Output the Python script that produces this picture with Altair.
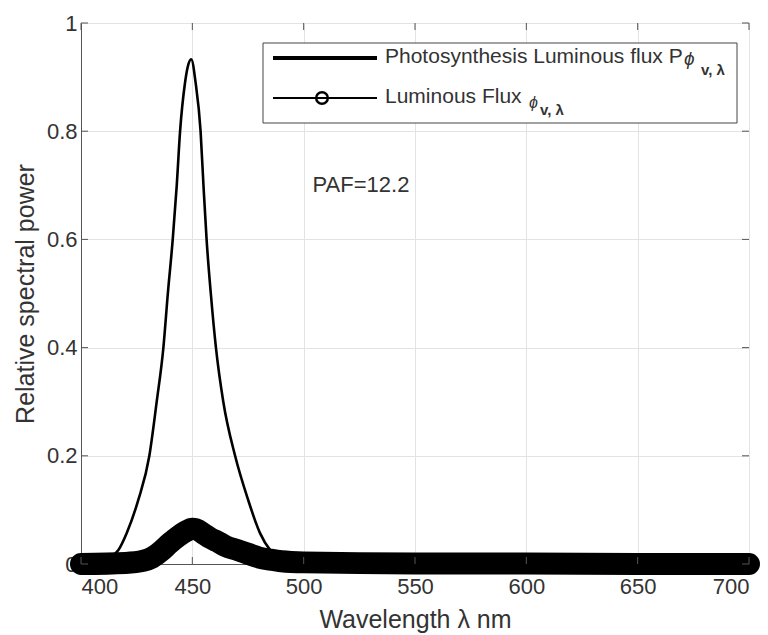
import altair as alt
import pandas as pd

# Photosynthesis luminous flux spectrum (thin peaked curve)
wl_photo = [400, 410, 414, 416.8, 420.5, 425.7, 430.7, 434, 437, 439, 441.2, 443, 444.5, 446.7, 448,
            449.5, 451.5, 453.7, 455, 456.4, 458.3, 460.6, 463.9, 469.2, 475.1, 480.4, 484.9, 490,
            495, 500, 600, 700]
photo = [0.0, 0.005, 0.015, 0.026, 0.057, 0.118, 0.20, 0.30, 0.40, 0.50, 0.60, 0.70, 0.80, 0.889, 0.92,
         0.933, 0.889, 0.80, 0.70, 0.60, 0.50, 0.40, 0.30, 0.20, 0.118, 0.057, 0.026, 0.01,
         0.003, 0.0, 0.0, 0.0]

# Luminous flux spectrum (thick marker band)
wl_lum = [400, 420, 428, 432, 436, 440, 444, 447, 450, 452, 455, 458, 461, 465, 470, 475, 480,
          485, 490, 500, 550, 600, 650, 700]
lum = [0.0, 0.002, 0.006, 0.012, 0.024, 0.039, 0.052, 0.060, 0.065, 0.064, 0.056, 0.048, 0.042,
       0.033, 0.026, 0.019, 0.012, 0.008, 0.005, 0.003, 0.001, 0.001, 0.0, 0.0]

x_ticks = [400, 450, 500, 550, 600, 650, 700]
y_ticks = [0, 0.2, 0.4, 0.6, 0.8, 1.0]

W, H = 668, 541
FONT = "Liberation Sans"
TXT = "#333333"

df_photo = pd.DataFrame({"wl": wl_photo, "v": photo})
df_lum = pd.DataFrame({"wl": wl_lum, "v": lum})
df_xt = pd.DataFrame({"wl": x_ticks})
df_yt = pd.DataFrame({"v": y_ticks})

xs = alt.Scale(domain=[400, 700], nice=False, zero=False)
ys = alt.Scale(domain=[0, 1], nice=False)

x_axis = alt.Axis(values=x_ticks, format="d", ticks=False, labelPadding=12, labelFontSize=22,
                  labelFont=FONT, labelColor=TXT, title="Wavelength λ nm", titleFontSize=25,
                  titleFont=FONT, titleColor=TXT, titleFontWeight="normal", titlePadding=10,
                  grid=True, gridColor="#e3e3e3", domainColor="#555555")
y_axis = alt.Axis(values=y_ticks, format="~g", ticks=False, labelPadding=4, labelFontSize=22,
                  labelFont=FONT, labelColor=TXT, title="Relative spectral power", titleFontSize=25,
                  titleFont=FONT, titleColor=TXT, titleFontWeight="normal", titlePadding=8,
                  grid=True, gridColor="#e3e3e3", domainColor="#555555")

photo_line = alt.Chart(df_photo).mark_line(color="black", strokeWidth=2.6, clip=False,
                                           interpolate="monotone").encode(
    x=alt.X("wl:Q", scale=xs, axis=x_axis),
    y=alt.Y("v:Q", scale=ys, axis=y_axis),
)

lum_band = alt.Chart(df_lum).mark_line(color="black", strokeWidth=22, strokeCap="round",
                                       strokeJoin="round", clip=False,
                                       interpolate="monotone").encode(
    x=alt.X("wl:Q", scale=xs),
    y=alt.Y("v:Q", scale=ys),
)

# inward tick marks on all four sides
tick_c = "#555555"
tb = alt.Chart(df_xt).mark_rule(color=tick_c).encode(x=alt.X("wl:Q", scale=xs), y=alt.value(H), y2=alt.value(H - 7))
tt = alt.Chart(df_xt).mark_rule(color=tick_c).encode(x=alt.X("wl:Q", scale=xs), y=alt.value(0), y2=alt.value(7))
tl = alt.Chart(df_yt).mark_rule(color=tick_c).encode(y=alt.Y("v:Q", scale=ys), x=alt.value(0), x2=alt.value(7))
tr = alt.Chart(df_yt).mark_rule(color=tick_c).encode(y=alt.Y("v:Q", scale=ys), x=alt.value(W), x2=alt.value(W - 7))

# annotation
paf = alt.Chart(pd.DataFrame({"wl": [504], "v": [0.70], "t": ["PAF=12.2"]})).mark_text(
    align="left", baseline="middle", fontSize=22, font=FONT, color=TXT
).encode(x=alt.X("wl:Q", scale=xs), y=alt.Y("v:Q", scale=ys), text="t:N")

# legend box
one = pd.DataFrame({"a": [0]})
box = alt.Chart(one).mark_rect(fill="white", stroke="#444444", strokeWidth=1).encode(
    x=alt.value(182), x2=alt.value(656), y=alt.value(20), y2=alt.value(100))
leg1 = alt.Chart(one).mark_rule(color="black", strokeWidth=4).encode(
    x=alt.value(192), x2=alt.value(296), y=alt.value(35))
leg2 = alt.Chart(one).mark_rule(color="black", strokeWidth=2).encode(
    x=alt.value(192), x2=alt.value(296), y=alt.value(75))
leg2c = alt.Chart(one).mark_point(shape="circle", filled=False, color="black", strokeWidth=2.5,
                                  size=135, opacity=1).encode(x=alt.value(241), y=alt.value(75))


def label(text, x, y, size, style="normal", weight="normal", align="left"):
    return alt.Chart(one).mark_text(
        text=text, align=align, baseline="middle", fontSize=size, font=FONT,
        fontStyle=style, fontWeight=weight, color=TXT
    ).encode(x=alt.value(x), y=alt.value(y))


legend_text = [
    label("Photosynthesis Luminous flux P", 304, 34, 21),
    label("ϕ", 603, 36, 19, style="italic"),
    label("v, λ", 620, 47, 15, weight="bold"),
    label("Luminous Flux", 304, 74, 21),
    label("ϕ", 448, 80, 16, style="italic"),
    label("v, λ", 459, 87, 15, weight="bold"),
]

chart = alt.layer(
    photo_line, lum_band, tb, tt, tl, tr, paf, box, leg1, leg2, leg2c, *legend_text
).properties(
    width=W, height=H,
    autosize=alt.AutoSizeParams(type="none"),
    padding={"left": 81, "top": 23, "right": 19, "bottom": 71},
).configure_view(stroke="#555555", strokeWidth=1).configure(background="white")

chart.save("out.html", embed_options={"renderer": "svg", "actions": False})
